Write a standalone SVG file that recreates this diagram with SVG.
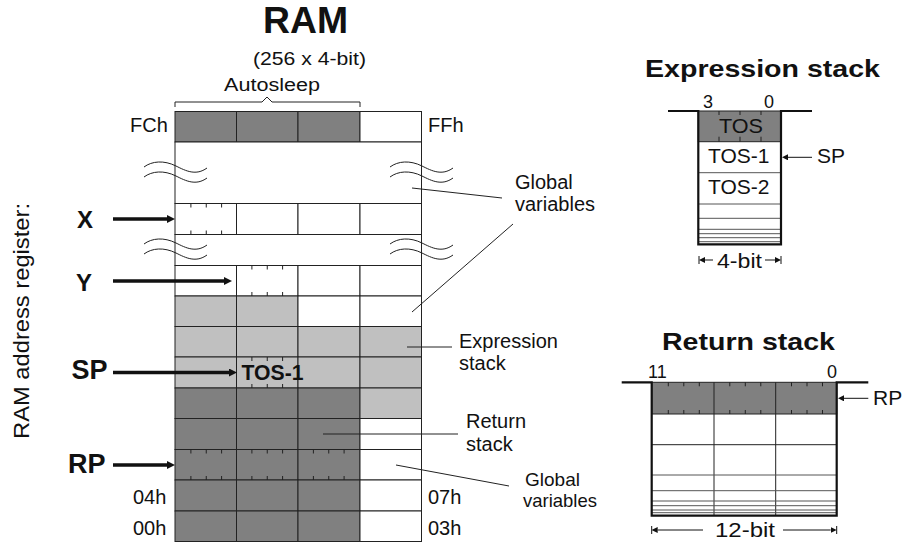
<svg xmlns="http://www.w3.org/2000/svg" width="908" height="544" viewBox="0 0 908 544">
<style>
text{font-family:"Liberation Sans",Arial,Helvetica,sans-serif;fill:#111}
.b{font-weight:bold}
.dk{fill:#808080;stroke:#222;stroke-width:1}
.lt{fill:#c0c0c0;stroke:#222;stroke-width:1}
.wh{fill:#fff;stroke:#222;stroke-width:1}
.tk{stroke:#222;stroke-width:1;fill:none}
.wv{stroke:#222;stroke-width:1;fill:none}
.ld{stroke:#222;stroke-width:1;fill:none}
.thick{stroke:#111;stroke-width:3.5;fill:none}
.thin{stroke:#111;stroke-width:1;fill:none}
.frame{stroke:#111;stroke-width:2.2;fill:none}
.row{stroke:#555;stroke-width:1}
</style>
<defs>
<marker id="bigHead" viewBox="0 0 8 8" refX="0" refY="4" markerWidth="8" markerHeight="8" markerUnits="userSpaceOnUse" orient="auto">
<path d="M0,0 L8,4 L0,8 z" fill="#111"/>
</marker>
<marker id="smallHead" viewBox="0 0 6 6" refX="0" refY="3" markerWidth="6" markerHeight="6" markerUnits="userSpaceOnUse" orient="auto">
<path d="M0,0 L6,3 L0,6 z" fill="#111"/>
</marker>
</defs>
<rect width="908" height="544" fill="#fff"/>

<g id="ram-title">
<text class="b" x="305.5" y="33" font-size="36" text-anchor="middle" textLength="85" lengthAdjust="spacingAndGlyphs">RAM</text>
<text x="253" y="65" font-size="18" textLength="113" lengthAdjust="spacingAndGlyphs">(256 x 4-bit)</text>
<text x="224" y="91" font-size="18" textLength="96" lengthAdjust="spacingAndGlyphs">Autosleep</text>
<path class="tk" d="M175,107 V102 H262 L267,97 L272,102 H360 V107"/>
</g>

<g id="ram">
<rect class="dk" x="175" y="111.5" width="61.5" height="30.5"/>
<rect class="dk" x="236.5" y="111.5" width="61.5" height="30.5"/>
<rect class="dk" x="298" y="111.5" width="62" height="30.5"/>
<rect class="wh" x="360" y="111.5" width="61.5" height="30.5"/>
<rect class="wh" x="175" y="142" width="246.5" height="61.5"/>
<rect class="wh" x="175" y="203.5" width="61.5" height="31"/>
<rect class="wh" x="236.5" y="203.5" width="61.5" height="31"/>
<rect class="wh" x="298" y="203.5" width="62" height="31"/>
<rect class="wh" x="360" y="203.5" width="61.5" height="31"/>
<rect class="wh" x="175" y="234.5" width="246.5" height="31"/>
<rect class="wh" x="175" y="265.5" width="61.5" height="30.5"/>
<rect class="wh" x="236.5" y="265.5" width="61.5" height="30.5"/>
<rect class="wh" x="298" y="265.5" width="62" height="30.5"/>
<rect class="wh" x="360" y="265.5" width="61.5" height="30.5"/>
<rect class="lt" x="175" y="296" width="61.5" height="30.5"/>
<rect class="lt" x="236.5" y="296" width="61.5" height="30.5"/>
<rect class="wh" x="298" y="296" width="62" height="30.5"/>
<rect class="wh" x="360" y="296" width="61.5" height="30.5"/>
<rect class="lt" x="175" y="326.5" width="61.5" height="30.5"/>
<rect class="lt" x="236.5" y="326.5" width="61.5" height="30.5"/>
<rect class="lt" x="298" y="326.5" width="62" height="30.5"/>
<rect class="lt" x="360" y="326.5" width="61.5" height="30.5"/>
<rect class="lt" x="175" y="357" width="61.5" height="31"/>
<rect class="lt" x="236.5" y="357" width="61.5" height="31"/>
<rect class="lt" x="298" y="357" width="62" height="31"/>
<rect class="lt" x="360" y="357" width="61.5" height="31"/>
<rect class="dk" x="175" y="388" width="61.5" height="30.5"/>
<rect class="dk" x="236.5" y="388" width="61.5" height="30.5"/>
<rect class="dk" x="298" y="388" width="62" height="30.5"/>
<rect class="lt" x="360" y="388" width="61.5" height="30.5"/>
<rect class="dk" x="175" y="418.5" width="61.5" height="31"/>
<rect class="dk" x="236.5" y="418.5" width="61.5" height="31"/>
<rect class="dk" x="298" y="418.5" width="62" height="31"/>
<rect class="wh" x="360" y="418.5" width="61.5" height="31"/>
<rect class="dk" x="175" y="449.5" width="61.5" height="30.5"/>
<rect class="dk" x="236.5" y="449.5" width="61.5" height="30.5"/>
<rect class="dk" x="298" y="449.5" width="62" height="30.5"/>
<rect class="wh" x="360" y="449.5" width="61.5" height="30.5"/>
<rect class="dk" x="175" y="480" width="61.5" height="31"/>
<rect class="dk" x="236.5" y="480" width="61.5" height="31"/>
<rect class="dk" x="298" y="480" width="62" height="31"/>
<rect class="wh" x="360" y="480" width="61.5" height="31"/>
<rect class="dk" x="175" y="511" width="61.5" height="30.5"/>
<rect class="dk" x="236.5" y="511" width="61.5" height="30.5"/>
<rect class="dk" x="298" y="511" width="62" height="30.5"/>
<rect class="wh" x="360" y="511" width="61.5" height="30.5"/>
<path class="wv" d="M144,167 C152,161 164,160 176,166 C186,171 196,176 207,168 M144,177 C152,171 164,170 176,176 C186,181 196,186 207,178"/>
<path class="wv" d="M390,167 C398,161 410,160 422,166 C432,171 442,176 453,168 M390,177 C398,171 410,170 422,176 C432,181 442,186 453,178"/>
<path class="wv" d="M144,244 C152,238 164,237 176,243 C186,248 196,253 207,245 M144,254 C152,248 164,247 176,253 C186,258 196,263 207,255"/>
<path class="wv" d="M390,244 C398,238 410,237 422,243 C432,248 442,253 453,245 M390,254 C398,248 410,247 422,253 C432,258 442,263 453,255"/>
<path class="tk" d="M190.9,203.5v4 M206.25,203.5v4 M221.6,203.5v4 M190.9,234.5v-4 M206.25,234.5v-4 M221.6,234.5v-4"/>
<path class="tk" d="M251.9,265.5v4 M267.25,265.5v4 M282.6,265.5v4 M251.9,296v-4 M267.25,296v-4 M282.6,296v-4"/>
<path class="tk" d="M251.9,357v4 M267.25,357v4 M282.6,357v4 M251.9,388v-4 M267.25,388v-4 M282.6,388v-4"/>
<path class="tk" d="M190.9,449.5v4 M206.25,449.5v4 M221.6,449.5v4 M251.9,449.5v4 M267.25,449.5v4 M282.6,449.5v4 M313.4,449.5v4 M328.75,449.5v4 M344.1,449.5v4 M190.9,480v-4 M206.25,480v-4 M221.6,480v-4 M251.9,480v-4 M267.25,480v-4 M282.6,480v-4 M313.4,480v-4 M328.75,480v-4 M344.1,480v-4"/>
<text class="b" x="241.5" y="380" font-size="22" textLength="62" lengthAdjust="spacingAndGlyphs">TOS-1</text>
<text x="130" y="131.5" font-size="20">FCh</text>
<text x="428" y="131.5" font-size="20">FFh</text>
<text x="133" y="504" font-size="20">04h</text>
<text x="133" y="535" font-size="20">00h</text>
<text x="428" y="504" font-size="20">07h</text>
<text x="428" y="535" font-size="20">03h</text>
</g>

<g id="registers">
<text x="29" y="321" font-size="22" text-anchor="middle" transform="rotate(-90 29 321)" textLength="236" lengthAdjust="spacingAndGlyphs">RAM address register:</text>
<text class="b" x="77" y="228" font-size="24">X</text>
<text class="b" x="76" y="291" font-size="24">Y</text>
<text class="b" x="71.5" y="379" font-size="27">SP</text>
<text class="b" x="68" y="473" font-size="27">RP</text>
</g>

<g id="labels">
<text x="515" y="189" font-size="20">Global</text>
<text x="515" y="211" font-size="20">variables</text>
<text x="459" y="348" font-size="20">Expression</text>
<text x="459" y="370" font-size="20">stack</text>
<text x="466" y="428" font-size="20">Return</text>
<text x="466" y="451" font-size="20">stack</text>
<text x="525" y="486" font-size="19">Global</text>
<text x="523" y="507" font-size="19" textLength="74" lengthAdjust="spacingAndGlyphs">variables</text>
</g>

<g id="expression-stack">
<text class="b" x="645" y="77" font-size="24" textLength="235" lengthAdjust="spacingAndGlyphs">Expression stack</text>
<rect x="698.3" y="111" width="82.7" height="133.3" fill="#fff"/>
<rect class="dk" x="698.3" y="111" width="82.7" height="30.7"/>
<path class="tk" d="M719,111v4 M740,111v4 M761,111v4 M719,141.7v-5 M740,141.7v-5 M761,141.7v-5"/>
<path class="row" d="M698.3,172.7H781 M698.3,204H781 M698.3,218.3H781 M698.3,229.3H781 M698.3,233.7H781 M698.3,237.7H781 M698.3,241.7H781"/>
<path class="frame" d="M668,111 H698.3 V244.3 H781 V111 H812"/>
<text x="703" y="108" font-size="18">3</text>
<text x="764" y="108" font-size="18">0</text>
<text x="719" y="133" font-size="21" textLength="44" lengthAdjust="spacingAndGlyphs">TOS</text>
<text x="708" y="163" font-size="21">TOS-1</text>
<text x="708" y="194" font-size="21">TOS-2</text>
<text x="817" y="163" font-size="21">SP</text>
<text x="717" y="268" font-size="21" textLength="45" lengthAdjust="spacingAndGlyphs">4-bit</text>
<path class="thin" d="M699,256V264 M781,256V264"/>
</g>

<g id="return-stack">
<text class="b" x="662" y="350" font-size="24" textLength="173" lengthAdjust="spacingAndGlyphs">Return stack</text>
<rect x="651.7" y="382.3" width="185" height="133.4" fill="#fff"/>
<rect class="dk" x="651.7" y="382.3" width="185" height="31.7"/>
<path class="row" style="stroke:#222" d="M714,382.3V515.7 M775.7,382.3V515.7"/>
<path class="tk" d="M668.3,382.3v4 M683.8,382.3v4 M699.3,382.3v4 M729.8,382.3v4 M745.3,382.3v4 M760.8,382.3v4 M791.5,382.3v4 M807,382.3v4 M822.5,382.3v4 M668.3,414v-4 M683.8,414v-4 M699.3,414v-4 M729.8,414v-4 M745.3,414v-4 M760.8,414v-4 M791.5,414v-4 M807,414v-4 M822.5,414v-4"/>
<path class="row" style="stroke:#222" d="M651.7,444.7H836.7"/>
<path class="row" d="M651.7,475H836.7 M651.7,490.7H836.7 M651.7,501H836.7 M651.7,505.7H836.7 M651.7,510H836.7 M651.7,512.7H836.7"/>
<path class="frame" d="M621.7,382.3 H651.7 V515.7 H836.7 V382.3 H868.3"/>
<text x="648" y="378" font-size="18">11</text>
<text x="827" y="378" font-size="18">0</text>
<text x="873" y="405" font-size="21">RP</text>
<text x="715" y="537" font-size="21" textLength="60" lengthAdjust="spacingAndGlyphs">12-bit</text>
<path class="thin" d="M651.7,526V534 M836.7,526V534"/>
</g>

<g id="connectors">
<line class="thick" x1="113" y1="219" x2="167" y2="219" marker-end="url(#bigHead)"/>
<line class="thick" x1="113" y1="281" x2="224" y2="281" marker-end="url(#bigHead)"/>
<line class="thick" x1="113" y1="372.5" x2="229" y2="372.5" marker-end="url(#bigHead)"/>
<line class="thick" x1="113" y1="465" x2="167" y2="465" marker-end="url(#bigHead)"/>
<line class="ld" x1="412" y1="188" x2="502" y2="198"/>
<line class="ld" x1="412" y1="312" x2="513" y2="224"/>
<line class="ld" x1="407" y1="347" x2="452" y2="347"/>
<line class="ld" x1="323" y1="434" x2="458" y2="434"/>
<line class="ld" x1="396" y1="465" x2="509" y2="486"/>
<line class="thin" x1="812" y1="157.3" x2="788" y2="157.3" marker-end="url(#smallHead)"/>
<line class="thin" x1="868.3" y1="398.3" x2="844" y2="398.3" marker-end="url(#smallHead)"/>
<line class="thin" x1="713" y1="260" x2="705" y2="260" marker-end="url(#smallHead)"/>
<line class="thin" x1="765" y1="260" x2="775" y2="260" marker-end="url(#smallHead)"/>
<line class="thin" x1="703" y1="530" x2="657.7" y2="530" marker-end="url(#smallHead)"/>
<line class="thin" x1="783" y1="530" x2="830.7" y2="530" marker-end="url(#smallHead)"/>
</g>
</svg>
